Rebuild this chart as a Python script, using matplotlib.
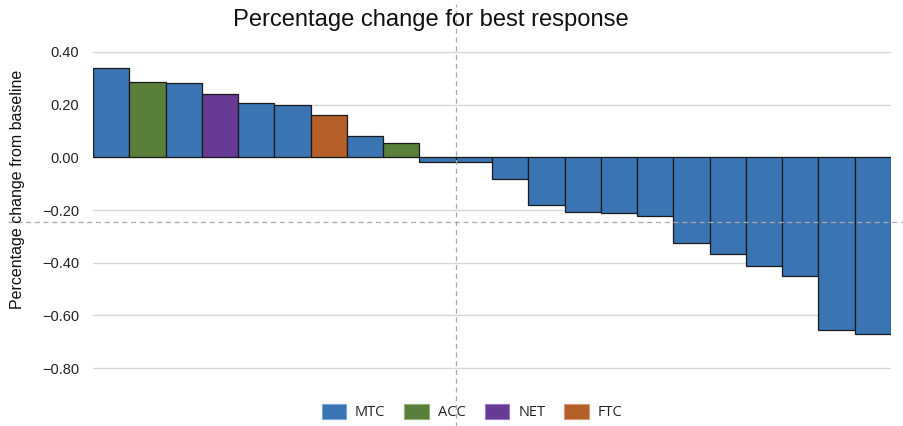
import matplotlib
matplotlib.use("Agg")
import matplotlib.pyplot as plt
from matplotlib.patches import Patch
from matplotlib.ticker import FuncFormatter

# ---- data ----
values = [0.338, 0.286, 0.281, 0.241, 0.205, 0.197, 0.162, 0.082, 0.053,
          -0.018, -0.018, -0.081, -0.180, -0.209, -0.213, -0.224, -0.326,
          -0.367, -0.414, -0.452, -0.654, -0.669]
types = ["MTC", "ACC", "MTC", "NET", "MTC", "MTC", "FTC", "MTC", "ACC",
         "MTC", "MTC", "MTC", "MTC", "MTC", "MTC", "MTC", "MTC",
         "MTC", "MTC", "MTC", "MTC", "MTC"]
categories = ["MTC", "ACC", "NET", "FTC"]
yticks = [0.40, 0.20, 0.00, -0.20, -0.40, -0.60, -0.80]
ref_x = 9.5
ref_y = -0.244

colors = {"MTC": "#3A74B3", "ACC": "#5A7F3B", "NET": "#673A95", "FTC": "#B55F29"}
edge_light = {"MTC": "#7FA6D6", "ACC": "#93AF7A", "NET": "#9C7FC2", "FTC": "#D89B77"}

W, H = 904, 426
fig = plt.figure(figsize=(W / 100, H / 100), dpi=100)
ax_left, ax_right = 93 / W, 891 / W
ax_top_px, ax_bot_px = 38.7, 394.5
ax = fig.add_axes([ax_left, 1 - ax_bot_px / H, ax_right - ax_left, (ax_bot_px - ax_top_px) / H])

x = list(range(len(values)))
ax.bar(x, values, width=1.0, color=[colors[t] for t in types],
       edgecolor="#1a1a1a", linewidth=0.9, zorder=3)

ax.set_xlim(-0.5, len(values) - 0.5)
ax.set_ylim(-0.9, 0.45)
ax.set_yticks(yticks)
ax.yaxis.set_major_formatter(FuncFormatter(lambda v, p: f"{v:.2f}".replace("-", "\u2212")))
ax.set_xticks([])
ax.tick_params(axis="y", length=0, pad=10, labelsize=10.5, labelcolor="#222222")
for lab in ax.get_yticklabels():
    lab.set_family("Liberation Sans")
for s in ax.spines.values():
    s.set_visible(False)
ax.yaxis.grid(True, color="#d9d9d9", linewidth=1.0, zorder=0)
ax.set_axisbelow(True)

# reference lines extending beyond axes
ax.axvline(ref_x, ymin=-0.09, ymax=1.0975, color="#aaaaaa", linestyle=(0, (4, 3)),
           linewidth=0.9, clip_on=False, zorder=4)
ax.axhline(ref_y, xmin=-0.1065, xmax=1.02, color="#aaaaaa", linestyle=(0, (4, 3)),
           linewidth=0.9, clip_on=False, zorder=4)

fig.text(431 / W, 1 - 20 / H, "Percentage change for best response",
         ha="center", va="center", fontsize=17.1, family="Liberation Sans", color="#111111")
fig.text(18 / W, 1 - 189 / H, "Percentage change from baseline", rotation=90,
         ha="center", va="center", fontsize=11.5, family="Liberation Sans", color="#111111")

handles = [Patch(facecolor=colors[c], edgecolor=edge_light[c], linewidth=0.8, label=c)
           for c in categories]
fig.legend(handles=handles, loc="center", bbox_to_anchor=(472 / W, 1 - 412 / H),
           ncol=4, frameon=False, prop={"family": "Open Sans", "size": 10.5},
           handlelength=1.7, handleheight=1.3, columnspacing=1.3, handletextpad=0.6,
           labelcolor="#222222")

fig.savefig("out.png", dpi=100)
